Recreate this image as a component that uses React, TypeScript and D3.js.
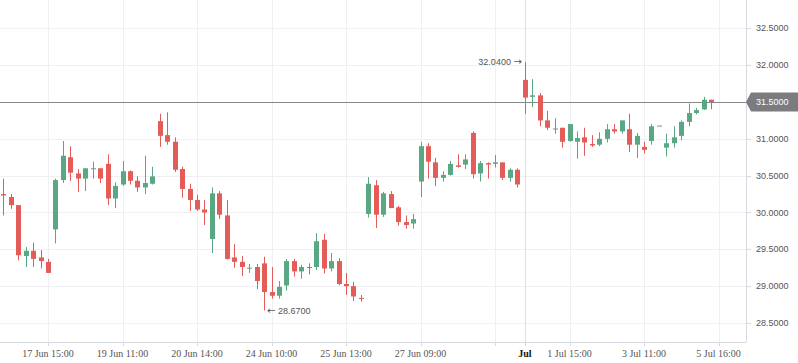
import React, { useRef, useEffect } from 'react';
import * as d3 from 'd3';

// candle values (index 0 .. 96)
const opens = [
  30.25, 30.21, 30.10, 29.41, 29.48, 29.39, 29.33, 29.77, 30.44, 30.75,
  30.53, 30.46, 30.60, 30.60, 30.66, 30.19, 30.38, 30.56, 30.43, 30.34,
  30.39, 31.24, 31.05, 30.96, 30.59, 30.32, 30.17, 30.04, 29.64, 30.26,
  29.96, 29.39, 29.33, 29.24, 29.26, 29.31, 28.92, 28.87, 29.01, 29.34,
  29.20, 29.26, 29.26, 29.63, 29.24, 29.34, 29.03, 29.00, 28.84, 29.98,
  30.37, 29.97, 30.25, 30.07, 29.87, 29.85, 30.42, 30.90, 30.68, 30.47,
  30.51, 30.64, 30.65, 31.08, 30.53, 30.67, 30.66, 30.68, 30.47, 30.58,
  31.80, 31.57, 31.59, 31.25, 31.14, 31.15, 30.97, 30.96, 31.02, 30.93,
  30.92, 31.00, 31.13, 31.10, 31.13, 30.92, 30.89, 30.97, 31.18, 30.88,
  30.94, 31.04, 31.23, 31.35, 31.40, 31.53, 31.50,
];
const highs = [
  30.46, 30.25, 30.10, 29.53, 29.59, 29.49, 29.37, 30.46, 30.97, 30.90,
  30.59, 30.60, 30.69, 30.60, 30.79, 30.41, 30.70, 30.57, 30.49, 30.77,
  30.62, 31.34, 31.36, 31.02, 30.62, 30.39, 30.24, 30.17, 30.34, 30.29,
  30.17, 29.57, 29.41, 29.30, 29.30, 29.40, 29.26, 29.07, 29.37, 29.37,
  29.29, 29.31, 29.72, 29.71, 29.45, 29.38, 29.18, 29.06, 28.88, 30.48,
  30.44, 30.28, 30.29, 30.09, 29.96, 29.98, 30.96, 30.94, 30.74, 30.56,
  30.70, 30.79, 30.79, 31.10, 30.70, 30.68, 30.78, 30.68, 30.60, 30.60,
  32.04, 31.81, 31.62, 31.38, 31.28, 31.15, 31.20, 31.10, 31.15, 31.05,
  31.09, 31.20, 31.20, 31.25, 31.34, 31.08, 30.96, 31.20, 31.18, 31.07,
  31.17, 31.25, 31.48, 31.42, 31.57, 31.53, 31.50,
];
const lows = [
  29.96, 30.05, 29.35, 29.26, 29.26, 29.24, 29.18, 29.58, 30.40, 30.43,
  30.28, 30.29, 30.46, 30.40, 30.10, 30.06, 30.36, 30.38, 30.28, 30.25,
  30.38, 30.89, 30.92, 30.55, 30.20, 30.02, 30.02, 29.83, 29.45, 29.91,
  29.36, 29.25, 29.14, 29.18, 28.96, 28.67, 28.83, 28.83, 28.94, 29.13,
  29.10, 29.16, 29.22, 29.17, 29.20, 29.01, 28.88, 28.80, 28.79, 29.93,
  29.79, 29.94, 30.06, 29.82, 29.78, 29.78, 30.21, 30.46, 30.36, 30.42,
  30.50, 30.61, 30.59, 30.46, 30.42, 30.46, 30.61, 30.44, 30.42, 30.34,
  31.34, 31.43, 31.17, 31.12, 31.07, 30.88, 30.96, 30.73, 30.77, 30.89,
  30.90, 30.95, 31.07, 31.07, 30.82, 30.74, 30.80, 30.92, 31.18, 30.76,
  30.88, 30.98, 31.17, 31.33, 31.39, 31.40, 31.49,
];
const closes = [
  30.23, 30.10, 29.42, 29.48, 29.37, 29.34, 29.18, 30.44, 30.77, 30.54,
  30.46, 30.60, 30.60, 30.46, 30.19, 30.36, 30.56, 30.43, 30.34, 30.40,
  30.49, 31.04, 30.96, 30.58, 30.32, 30.17, 30.04, 30.00, 30.26, 29.97,
  29.37, 29.33, 29.26, 29.25, 29.07, 28.92, 28.87, 28.99, 29.34, 29.20,
  29.26, 29.25, 29.61, 29.24, 29.34, 29.03, 29.00, 28.86, 28.83, 30.39,
  29.97, 30.26, 30.06, 29.87, 29.83, 29.91, 30.90, 30.69, 30.47, 30.51,
  30.66, 30.62, 30.72, 30.52, 30.67, 30.65, 30.68, 30.47, 30.58, 30.38,
  31.56, 31.59, 31.25, 31.15, 31.14, 30.96, 31.20, 31.01, 30.95, 30.91,
  31.00, 31.13, 31.10, 31.25, 30.92, 31.04, 30.85, 31.17, 31.18, 30.94,
  31.02, 31.23, 31.35, 31.39, 31.53, 31.50, 31.50,
];

const priceTicks = [28.5, 29.0, 29.5, 30.0, 30.5, 31.0, 31.5, 32.0, 32.5];
const timeLabels = [
  { i: 6, text: '17 Jun 15:00' },
  { i: 16, text: '19 Jun 11:00' },
  { i: 26, text: '20 Jun 14:00' },
  { i: 36, text: '24 Jun 10:00' },
  { i: 46, text: '25 Jun 13:00' },
  { i: 56, text: '27 Jun 09:00' },
  { i: 70, text: 'Jul', bold: true },
  { i: 76, text: '1 Jul 15:00' },
  { i: 86, text: '3 Jul 11:00' },
  { i: 96, text: '5 Jul 16:00' },
];
const gridIdx = [6, 16, 26, 36, 46, 56, 66, 76, 86, 96];
const lastPrice = 31.5;
const maxIdx = 70;
const minIdx = 35;

const W = 798;
const H = 363;
const plotRight = 746;
const plotBottom = 342;

const UP = '#5aa883';
const DOWN = '#e35c57';
const FLAT = '#8a8a8a';
const SANS = 'Liberation Sans, Arial, sans-serif';

const App = () => {
  const svgRef = useRef<SVGSVGElement>(null);

  useEffect(() => {
    const svg = d3.select(svgRef.current);
    svg.selectAll('*').remove();

    const x = d3.scaleLinear().domain([-0.443, 99.69]).range([0, plotRight]);
    const y = d3.scaleLinear().domain([28.5, 32.5]).range([323, 28.3]);

    const data = opens.map((o, i) => ({
      i, o, h: highs[i], l: lows[i], c: closes[i],
    }));

    // grid
    const grid = svg.append('g');
    grid.selectAll('line.h')
      .data(priceTicks)
      .enter()
      .append('line')
      .attr('x1', 0)
      .attr('x2', plotRight)
      .attr('y1', d => Math.round(y(d)) + 0.5)
      .attr('y2', d => Math.round(y(d)) + 0.5)
      .attr('stroke', '#eef0f3');
    grid.selectAll('line.v')
      .data(gridIdx)
      .enter()
      .append('line')
      .attr('x1', d => Math.round(x(d)) + 0.5)
      .attr('x2', d => Math.round(x(d)) + 0.5)
      .attr('y1', 0)
      .attr('y2', plotBottom)
      .attr('stroke', '#eef0f3');
    grid.append('line')
      .attr('x1', Math.round(x(70)) + 0.5)
      .attr('x2', Math.round(x(70)) + 0.5)
      .attr('y1', 0)
      .attr('y2', plotBottom)
      .attr('stroke', '#dcdfe4');

    // last price line
    const py = Math.round(y(lastPrice)) + 0.5;
    svg.append('line')
      .attr('x1', 0)
      .attr('x2', plotRight)
      .attr('y1', py)
      .attr('y2', py)
      .attr('stroke', '#888')
      .attr('stroke-width', 1);

    // candles
    const colorOf = d => (d.c > d.o ? UP : d.c < d.o ? DOWN : FLAT);
    const candles = svg.append('g')
      .selectAll('g')
      .data(data)
      .enter()
      .append('g');
    candles.append('line')
      .attr('x1', d => Math.round(x(d.i)) + 0.5)
      .attr('x2', d => Math.round(x(d.i)) + 0.5)
      .attr('y1', d => y(d.h))
      .attr('y2', d => y(d.l))
      .attr('stroke', colorOf);
    candles.append('rect')
      .attr('x', d => Math.round(x(d.i)) - 2)
      .attr('width', 5)
      .attr('y', d => y(Math.max(d.o, d.c)))
      .attr('height', d => Math.max(1, Math.abs(y(d.o) - y(d.c))))
      .attr('fill', colorOf);

    // high / low marks
    const hi = svg.append('text')
      .attr('x', x(maxIdx) - 3)
      .attr('y', y(highs[maxIdx]))
      .attr('dy', '0.35em')
      .attr('text-anchor', 'end')
      .attr('font-family', SANS)
      .attr('font-size', 9)
      .attr('fill', '#555');
    hi.append('tspan').text(`${highs[maxIdx].toFixed(4)} `);
    hi.append('tspan').attr('font-family', 'DejaVu Sans').attr('font-size', 10).text('\u2192');

    const lo = svg.append('text')
      .attr('x', x(minIdx) + 3)
      .attr('y', y(lows[minIdx]))
      .attr('dy', '0.35em')
      .attr('font-family', SANS)
      .attr('font-size', 9)
      .attr('fill', '#555');
    lo.append('tspan').attr('font-family', 'DejaVu Sans').attr('font-size', 10).text('\u2190');
    lo.append('tspan').text(` ${lows[minIdx].toFixed(4)}`);

    // price axis
    const pa = svg.append('g');
    pa.append('line')
      .attr('x1', plotRight + 0.5)
      .attr('x2', plotRight + 0.5)
      .attr('y1', 0)
      .attr('y2', plotBottom)
      .attr('stroke', '#d6d9de');
    pa.selectAll('line.t')
      .data(priceTicks)
      .enter()
      .append('line')
      .attr('x1', plotRight)
      .attr('x2', plotRight + 5)
      .attr('y1', d => Math.round(y(d)) + 0.5)
      .attr('y2', d => Math.round(y(d)) + 0.5)
      .attr('stroke', '#d6d9de');
    pa.selectAll('text')
      .data(priceTicks.filter(d => d !== lastPrice))
      .enter()
      .append('text')
      .attr('x', 756)
      .attr('y', d => y(d))
      .attr('dy', '0.35em')
      .attr('font-family', SANS)
      .attr('font-size', 9)
      .attr('fill', '#555')
      .text(d => d.toFixed(4));

    // last price label
    const bh = 19;
    const by = y(lastPrice);
    pa.append('path')
      .attr('d', `M${plotRight},${by} L${plotRight + 5},${by - bh / 2} L${W},${by - bh / 2} L${W},${by + bh / 2} L${plotRight + 5},${by + bh / 2} Z`)
      .attr('fill', '#7a7c80');
    pa.append('text')
      .attr('x', 756)
      .attr('y', by)
      .attr('dy', '0.35em')
      .attr('font-family', SANS)
      .attr('font-size', 9)
      .attr('fill', '#fff')
      .text(lastPrice.toFixed(4));

    // time axis
    const ta = svg.append('g');
    ta.append('line')
      .attr('x1', 0)
      .attr('x2', plotRight)
      .attr('y1', plotBottom + 0.5)
      .attr('y2', plotBottom + 0.5)
      .attr('stroke', '#d6d9de');
    ta.selectAll('line.t')
      .data([...gridIdx, 70])
      .enter()
      .append('line')
      .attr('x1', d => Math.round(x(d)) + 0.5)
      .attr('x2', d => Math.round(x(d)) + 0.5)
      .attr('y1', plotBottom)
      .attr('y2', plotBottom + 4)
      .attr('stroke', '#d6d9de');
    ta.selectAll('text')
      .data(timeLabels)
      .enter()
      .append('text')
      .attr('x', d => x(d.i))
      .attr('y', 357)
      .attr('text-anchor', 'middle')
      .attr('font-family', 'Liberation Serif, Times New Roman, serif')
      .attr('font-size', 10)
      .attr('font-weight', d => (d.bold ? 'bold' : 'normal'))
      .attr('fill', d => (d.bold ? '#111' : '#555'))
      .text(d => d.text);
  }, []);

  return (
    <div style={{ position: 'fixed', left: 0, top: 0, background: '#fff' }}>
      <svg ref={svgRef} width={W} height={H} style={{ display: 'block' }}></svg>
    </div>
  );
};

export default App;
